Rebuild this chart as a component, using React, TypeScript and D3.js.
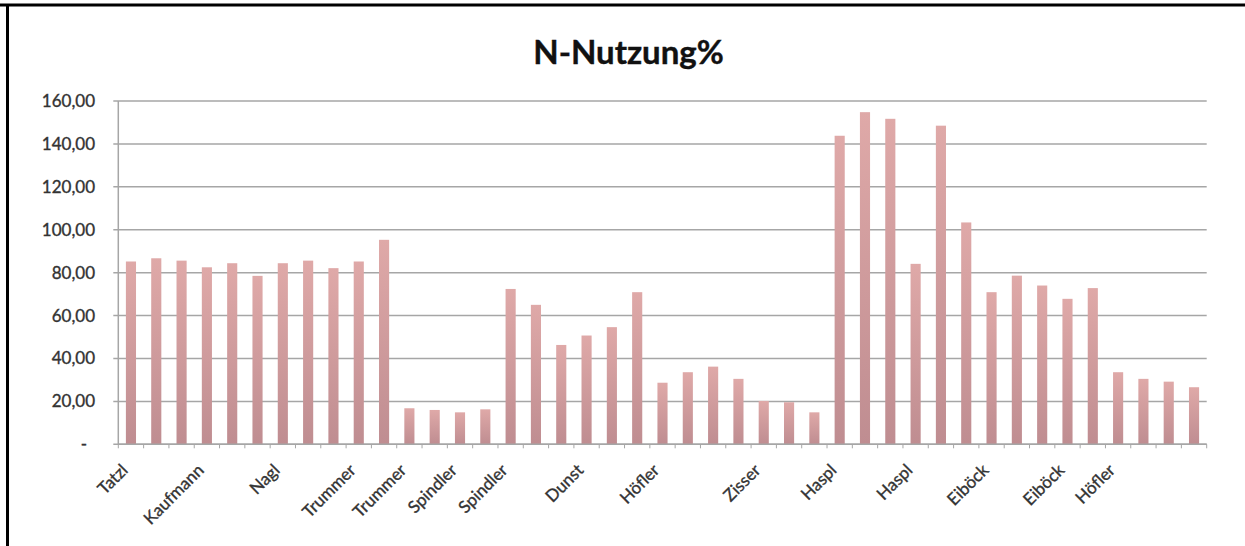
import React from "react";
import * as d3 from "d3";

const categories: string[] = [
  "Tatzl", "", "", "Kaufmann", "", "", "Nagl", "", "", "Trummer", "",
  "Trummer", "", "Spindler", "", "Spindler", "", "", "Dunst", "", "",
  "Höfler", "", "", "", "Zisser", "", "", "Haspl", "", "",
  "Haspl", "", "", "Eiböck", "", "", "Eiböck", "", "Höfler", "", "", "",
];

const values: number[] = [
  85.2, 86.7, 85.6, 82.5, 84.4, 78.5, 84.4, 85.6, 82.1, 85.2, 95.3,
  16.8, 16.0, 14.9, 16.3, 72.4, 65.0, 46.3, 50.7, 54.6, 70.9,
  28.7, 33.6, 36.2, 30.5, 20.2, 19.6, 14.9,
  143.8, 154.8, 151.7, 84.1, 148.5, 103.4, 70.9, 78.6, 74.0, 67.8, 72.8,
  33.6, 30.5, 29.2, 26.6,
];

const yTicks: number[] = [0, 20, 40, 60, 80, 100, 120, 140, 160];
const title = "N-Nutzung%";

const W = 1245;
const H = 546;
const left = 118.3;
const right = 1206.7;
const top = 101;
const bottom = 444.3;
const FONT = "Lato, 'Open Sans', sans-serif";

const fmt = (v: number) => (v === 0 ? "-" : v.toFixed(2).replace(".", ","));

export default function App() {
  const idx = categories.map((_, i) => String(i));
  const x = d3.scaleBand<string>().domain(idx).range([left, right]).paddingInner(0.6).paddingOuter(0.3);
  const y = d3.scaleLinear().domain([0, 160]).range([bottom, top]);
  const step = x.step();
  const bounds = d3.range(categories.length + 1).map((i) => left + i * step);

  return (
    <svg width={W} height={H} style={{ position: "absolute", left: 0, top: 0 }}>
      <defs>
        <linearGradient id="barGrad" x1="0" y1="0" x2="0" y2="1">
          <stop offset="0%" stopColor="#dfa9a8" />
          <stop offset="100%" stopColor="#bf8d91" />
        </linearGradient>
      </defs>
      <rect x={0} y={0} width={W} height={H} fill="#ffffff" />
      <line x1={0} x2={W} y1={5} y2={5} stroke="#000" strokeWidth={3} />
      <line x1={7.5} x2={7.5} y1={4} y2={H} stroke="#000" strokeWidth={3} />

      <text x={628.5} y={64} textAnchor="middle" fontFamily={FONT} fontWeight="bold" fontSize={33} fill="#111" stroke="#111" strokeWidth={0.4}>
        {title}
      </text>

      {yTicks.map((t) => (
        <g key={t}>
          <line x1={left - 5} x2={right} y1={y(t)} y2={y(t)} stroke="#a6a6a6" strokeWidth={1.5} />
          <text x={t === 0 ? 87 : 95} y={y(t) + 6} textAnchor="end" fontFamily={FONT} fontSize={17} fill="#333" stroke="#333" strokeWidth={0.35}>
            {fmt(t)}
          </text>
        </g>
      ))}
      <line x1={left} x2={left} y1={top} y2={bottom} stroke="#a6a6a6" strokeWidth={1.5} />

      {values.map((v, i) => (
        <rect key={i} x={x(String(i))} y={y(v)} width={x.bandwidth()} height={bottom - y(v)} fill="url(#barGrad)" />
      ))}

      {bounds.map((b, i) => (
        <line key={i} x1={b} x2={b} y1={bottom} y2={bottom + 4} stroke="#a6a6a6" strokeWidth={1} />
      ))}
      <line x1={left} x2={right} y1={bottom} y2={bottom} stroke="#a6a6a6" strokeWidth={1.5} />

      {categories.map((c, i) =>
        c ? (
          <text
            key={i}
            transform={`translate(${(x(String(i)) as number) + x.bandwidth() / 2 - 2},${bottom + 27}) rotate(-45)`}
            textAnchor="end"
            fontFamily={FONT}
            fontSize={17}
            fill="#333"
            stroke="#333"
            strokeWidth={0.35}
          >
            {c}
          </text>
        ) : null
      )}
    </svg>
  );
}
